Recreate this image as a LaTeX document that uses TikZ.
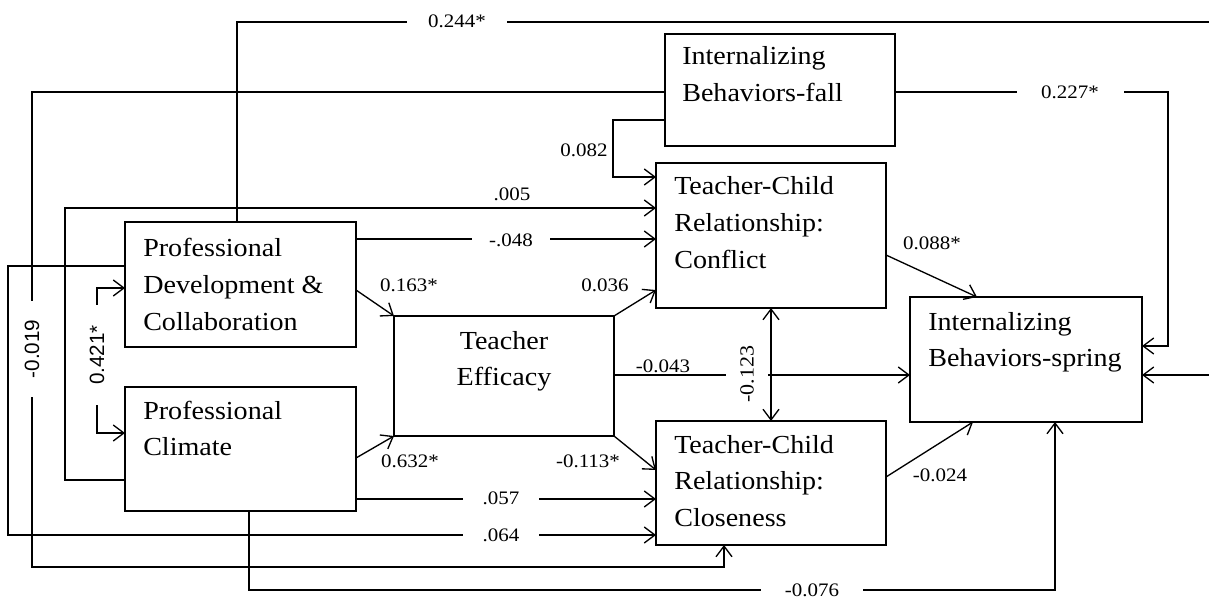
\documentclass[tikz,border=0pt]{standalone}
\usepackage{fontspec}
\setmainfont{Liberation Serif}
\newfontfamily\boxfont[FakeStretch=1.08]{Liberation Serif}
\newfontfamily\labfont[FakeStretch=1.1]{Liberation Serif}
\newfontfamily\sanslab{Liberation Sans}
\usetikzlibrary{arrows.meta,calc}
\begin{document}
\begin{tikzpicture}[x=0.75pt,y=-0.75pt,
  >={Straight Barb[length=8pt,width=12pt]},
  box/.style={draw, line width=1pt, inner sep=0pt, outer sep=0pt},
  btxt/.style={inner sep=0pt, anchor=base west, font=\boxfont\fontsize{19.5pt}{27.5pt}\selectfont},
  ln/.style={line width=1pt},
  lab/.style={inner sep=1pt, font=\labfont\fontsize{14.3pt}{16pt}\selectfont},
  gap/.style={lab, fill=white},
  rlab/.style={fill=white, inner sep=1pt, rotate=90, font=\labfont\fontsize{15pt}{17pt}\selectfont},
  slab/.style={fill=white, inner sep=1pt, rotate=90, font=\sanslab\fontsize{15.5pt}{17pt}\selectfont}]
\useasboundingbox[fill=white] (0,0) rectangle (1209,602);

% boxes
\node[box, minimum width=173.25pt, minimum height=93.75pt] (pd) at (240.5,284.5) {};
\node[box, minimum width=173.25pt, minimum height=93pt] (pc) at (240.5,449) {};
\node[box, minimum width=165pt, minimum height=90pt] (te) at (504,376) {};
\node[box, minimum width=172.5pt, minimum height=84pt] (ibf) at (780,90) {};
\node[box, minimum width=172.5pt, minimum height=108.75pt] (con) at (771,235.5) {};
\node[box, minimum width=172.5pt, minimum height=93pt] (clo) at (771,483) {};
\node[box, minimum width=174pt, minimum height=93.75pt] (ibs) at (1026,359.5) {};

% box texts
\node[btxt] (pdt) at (143,257) {\parbox[t]{170pt}{Professional\\Development \&\\Collaboration}};
\node[btxt] (pct) at (143,419) {\parbox[t]{170pt}{Professional\\Climate}};
\node[btxt, anchor=base] (tet) at (504,349) {\parbox[t]{160pt}{\centering Teacher\\Efficacy}};
\node[btxt] (ibft) at (682,65) {\parbox[t]{170pt}{Internalizing\\Behaviors-fall}};
\node[btxt] (cont) at (674,195) {\parbox[t]{170pt}{Teacher-Child\\Relationship:\\Conflict}};
\node[btxt] (clot) at (674,453) {\parbox[t]{170pt}{Teacher-Child\\Relationship:\\Closeness}};
\node[btxt] (ibst) at (928,330) {\parbox[t]{170pt}{Internalizing\\Behaviors-spring}};

% connectors
\draw[ln,->] ($(pd.north west)+(112,0)$) |- (1215,22) -- (1215,375) -- ($(ibs.east)+(0,15.5)$);
\draw[ln,->] ($(ibf.east)+(0,2)$) -- (1168,92) -- (1168,346) -- ($(ibs.east)+(0,-13.5)$);
\draw[line width=2.2pt] ($(ibf.east)+(70,2)$) -- ($(ibf.east)+(120,2)$);
\draw[ln,->] ($(ibf.west)+(0,2)$) -- (32,92) -- (32,567) -| ($(clo.south west)+(68,0)$);
\draw[ln,->] ($(ibf.west)+(0,30)$) -- (613,120) |- ($(con.west)+(0,-58.5)$);
\draw[ln,->] ($(pc.west)+(0,31)$) -- (65,480) |- ($(con.west)+(0,-27.5)$);
\draw[ln,->] ($(pd.east)+(0,-45.5)$) -- ($(con.west)+(0,3.5)$);
\draw[ln,<->] ($(pd.west)+(0,3.5)$) -- (97,288) -- (97,433) -- ($(pc.west)+(0,-16)$);
\draw[ln,->] ($(pd.west)+(0,-18.5)$) -- (8,266) -- (8,535) -- ($(clo.west)+(0,52)$);
\draw[ln,->] ($(pc.east)+(0,50)$) -- ($(clo.west)+(0,16)$);
\draw[ln,->] ($(pc.south west)+(124,0)$) -- (249,590) -| ($(ibs.south west)+(145,0)$);
\draw[ln,->] ($(pd.east)+(0,5.5)$) -- (te.north west);
\draw[ln,->] ($(pc.east)+(0,9)$) -- (te.south west);
\draw[ln,->] (te.north east) -- ($(con.west)+(0,54.5)$);
\draw[ln,->] (te.south east) -- ($(clo.west)+(0,-13)$);
\draw[ln,->] ($(te.east)+(0,-1)$) -- ($(ibs.west)+(0,15.5)$);
\draw[ln,->] ($(con.east)+(0,19.5)$) -- ($(ibs.north west)+(67,0)$);
\draw[ln,->] ($(clo.east)+(0,-6)$) -- ($(ibs.south west)+(63,0)$);

% labels
\node[gap, inner xsep=16pt] (l244) at (457,21) {0.244*};
\node[gap, inner xsep=18.5pt] (l227) at (1070,92) {0.227*};
\node[slab, inner xsep=14pt] (l019) at (32,349) {-0.019};
\node[lab] (l082) at (584,150) {0.082};
\node[lab] (l005) at (512,194) {.005};
\node[gap, inner xsep=13pt] (l048) at (511,240) {-.048};
\node[slab, inner xsep=15pt] (l421) at (97,355) {0.421*};
\node[gap, inner xsep=15pt] (l064) at (501,535) {.064};
\node[gap, inner xsep=15pt] (l057) at (501,498) {.057};
\node[gap, inner xsep=18pt] (l076) at (812,590) {-0.076};
\node[lab] (l163) at (409,285) {0.163*};
\node[lab] (l632) at (410,461) {0.632*};
\node[lab] (l036) at (605,285) {0.036};
\node[lab] (l113) at (588,461) {-0.113*};
\node[lab] (l043) at (663,366) {-0.043};
\node[lab] (l088) at (932,243) {0.088*};
\node[lab] (l024) at (940,475) {-0.024};
\node[rlab, inner ysep=11pt] (l123) at (747,374) {-0.123};

\draw[ln,<->] ($(con.south west)+(115,0)$) -- ($(clo.north west)+(115,0)$);
\end{tikzpicture}
\end{document}
